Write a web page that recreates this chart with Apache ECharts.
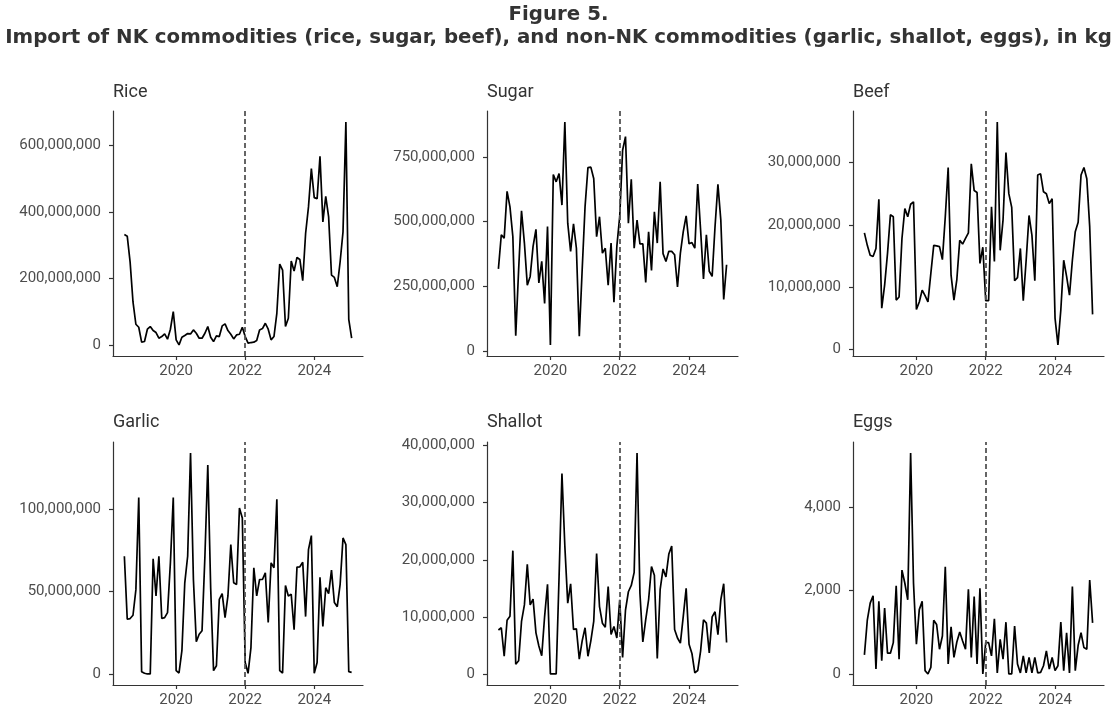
<!DOCTYPE html>
<html><head><meta charset="utf-8">
<script src="https://cdn.jsdelivr.net/npm/echarts@6/dist/echarts.min.js"></script>
<style>html,body{margin:0;padding:0;background:#fff}#c{width:1117px;height:708px}</style>
</head><body><div id="c"></div>
<script>
// Monthly series, first month July 2018, last month February 2025 (values in million kg)
const startYear = 2018;
const startMonthIndex = 6; // July (0-based)
const unitKg = 1e6;

const riceMkg = [333,328,250,130,63,54,9,11,48,56,44,38,21,26,34,18,48,101,16,1,24,29,35,34,46,36,21,21,36,56,24,11,28,26,58,64,44,33,19,31,33,54,26,6,8,9,14,46,50,66,48,16,26,96,244,226,56,81,253,223,264,258,194,336,416,531,444,441,568,371,448,386,211,204,176,251,341,671,78,21];
const sugarMkg = [317,449,436,617,557,442,58,314,542,417,254,288,404,470,263,346,183,481,23,682,654,686,564,885,494,385,491,397,56,314,558,709,711,667,442,519,378,397,254,417,188,404,520,776,829,494,664,397,506,414,414,265,461,311,538,417,654,376,346,385,385,372,247,378,461,522,414,419,397,645,468,278,449,308,288,481,644,506,199,333];
const beefMkg = [18.7,16.7,15.1,14.9,16.2,24.1,6.6,10.3,15.4,21.6,21.3,7.9,8.4,17.8,22.6,21.3,23.3,23.7,6.4,7.6,9.5,8.6,7.6,12.2,16.7,16.6,16.5,14.4,21.3,29.2,11.9,7.9,11.2,17.5,16.9,17.8,18.7,29.8,25.5,25.2,13.8,16.4,7.8,7.8,22.9,14.1,36.5,15.9,20.8,31.6,25.0,22.8,11.0,11.5,16.2,7.8,14.3,21.5,18.3,11.0,28.0,28.2,25.3,25.0,23.4,24.2,5.0,0.7,6.3,14.3,11.7,8.7,14.3,18.9,20.4,28.0,29.2,27.4,19.7,5.6];
const garlicMkg = [71.4,33.2,33.6,35.6,51,107,1.4,0.4,0,0,69.8,47.3,71.4,33.6,34.2,37.2,67.4,107,2.0,0.6,14.1,55.3,71.4,134,57.3,19.5,24.1,26.2,71.4,126.7,52.3,2.0,5.0,45.3,48.7,34.2,47.3,78.5,55.3,54.3,100.6,94.6,7,0.4,16,64.4,47.3,57.3,57.3,61.4,31.2,67.4,64.4,106,2.0,0.6,53.7,47.3,48.3,26.8,64.8,65.0,67.8,34.8,75.4,83.9,0.4,7.0,58.7,28.8,52.3,48.7,63.0,43.3,40.8,54.3,82.5,78.5,1.4,1.0];
const shallotMkg = [7.7,8.1,3.1,9.4,10.1,21.6,1.7,2.3,9.2,12.1,19.2,12.1,13.1,7.2,4.9,3.2,10.1,15.7,0,0,0,17.0,35.1,22.4,12.4,15.8,7.8,7.9,2.6,5.8,8.1,3.1,5.8,9.2,21.1,11.8,8.9,8.2,15.3,6.9,8.3,6.3,13.0,2.9,11.2,14.4,15.5,17.8,38.7,14.1,5.6,9.5,13.0,18.8,17.3,2.7,14.8,18.4,17.0,21.0,22.4,7.8,6.3,5.4,10.1,15.0,5.2,3.6,0.2,0.6,4.0,9.5,8.9,3.7,10.0,10.9,6.9,13.0,15.8,5.5];
const eggsKg = [458,1286,1696,1870,118,1736,316,1578,497,497,750,2107,355,2485,2170,1775,5286,2170,710,1539,1736,79,0,158,1286,1184,592,907,2564,237,1128,395,765,1002,789,592,2028,395,1854,237,2051,0,750,750,434,1318,24,828,355,1239,0,0,1144,237,24,434,24,395,24,395,24,39,197,552,118,395,79,197,1239,79,986,24,2090,79,686,986,631,592,2249,1223];

const panelNames = ['Rice','Sugar','Beef','Garlic','Shallot','Eggs'];
const xTickYears = [2020, 2022, 2024];
const breakYear = 2022;
const riceTicks = [0, 200000000, 400000000, 600000000];
const sugarTicks = [0, 250000000, 500000000, 750000000];
const beefTicks = [0, 10000000, 20000000, 30000000];
const garlicTicks = [0, 50000000, 100000000];
const shallotTicks = [0, 10000000, 20000000, 30000000, 40000000];
const eggsTicks = [0, 2000, 4000];
const mainTitle = 'Figure 5.';
const subTitle = 'Import of NK commodities (rice, sugar, beef), and non-NK commodities (garlic, shallot, eggs), in kg';

const seriesValues = [
  riceMkg.map(v => v * unitKg),
  sugarMkg.map(v => v * unitKg),
  beefMkg.map(v => v * unitKg),
  garlicMkg.map(v => v * unitKg),
  shallotMkg.map(v => v * unitKg),
  eggsKg.slice()
];
const yTicks = [riceTicks, sugarTicks, beefTicks, garlicTicks, shallotTicks, eggsTicks];

// time as decimal years (month start)
const n = riceMkg.length;
const dates = [];
for (let i = 0; i < n; i++) dates.push(startYear + (startMonthIndex + i) / 12);
const xSpan = dates[n - 1] - dates[0];
const xMin = dates[0] - 0.05 * xSpan;
const xMax = dates[n - 1] + 0.05 * xSpan;

const FONT = 'Roboto';
const TITLE_FONT = 'DejaVu Sans';
const AX = '#333333';
const gridBoxes = [
  {left: 113, right: 754, top: 111, bottom: 352},
  {left: 487, right: 379, top: 111, bottom: 352},
  {left: 853, right: 13, top: 111, bottom: 352},
  {left: 113, right: 754, top: 442, bottom: 20},
  {left: 487, right: 379, top: 442, bottom: 20},
  {left: 853, right: 13, top: 442, bottom: 20}
];

const titles = [
  {text: mainTitle, left: 'center', top: 5, padding: 0, textStyle: {fontFamily: TITLE_FONT, fontWeight: 'bold', fontSize: 19.8, color: '#333'}},
  {text: subTitle, left: 'center', top: 28, padding: 0, textStyle: {fontFamily: TITLE_FONT, fontWeight: 'bold', fontSize: 19.8, color: '#333'}}
];
panelNames.forEach((name, k) => {
  titles.push({text: name, left: gridBoxes[k].left, top: k < 3 ? 83 : 413, padding: 0,
    textStyle: {fontFamily: FONT, fontWeight: 'normal', fontSize: 18, color: '#333'}});
});

const xAxes = [], yAxes = [], series = [];
seriesValues.forEach((vals, k) => {
  const vmin = Math.min(...vals), vmax = Math.max(...vals);
  const r = vmax - vmin;
  xAxes.push({
    type: 'value', gridIndex: k, min: xMin, max: xMax,
    axisLine: {show: true, onZero: false, lineStyle: {color: AX, width: 1.2}},
    axisTick: {show: true, length: 4, customValues: xTickYears, lineStyle: {color: AX, width: 1.2}},
    axisLabel: {customValues: xTickYears, formatter: v => String(Math.round(v)),
      color: '#4d4d4d', fontSize: 15, fontFamily: FONT, margin: 8},
    splitLine: {show: false}
  });
  yAxes.push({
    type: 'value', gridIndex: k, min: vmin - 0.05 * r, max: vmax + 0.05 * r,
    axisLine: {show: true, onZero: false, lineStyle: {color: AX, width: 1.2}},
    axisTick: {show: true, length: 4, customValues: yTicks[k], lineStyle: {color: AX, width: 1.2}},
    axisLabel: {customValues: yTicks[k], formatter: v => Number(v).toLocaleString('en-US'),
      color: '#4d4d4d', fontSize: 15, fontFamily: FONT, margin: 12},
    splitLine: {show: false}
  });
  series.push({
    type: 'line', xAxisIndex: k, yAxisIndex: k, symbol: 'none', showSymbol: false,
    data: dates.map((d, i) => [d, vals[i]]),
    lineStyle: {color: '#000', width: 1.7},
    markLine: {silent: true, symbol: 'none', label: {show: false},
      lineStyle: {type: [5, 3], color: '#555', width: 1.8},
      data: [{xAxis: breakYear}]}
  });
});

const chart = echarts.init(document.getElementById('c'));
chart.setOption({
  animation: false,
  backgroundColor: '#fff',
  title: titles,
  grid: gridBoxes,
  xAxis: xAxes,
  yAxis: yAxes,
  series: series
});
</script>
</body></html>
